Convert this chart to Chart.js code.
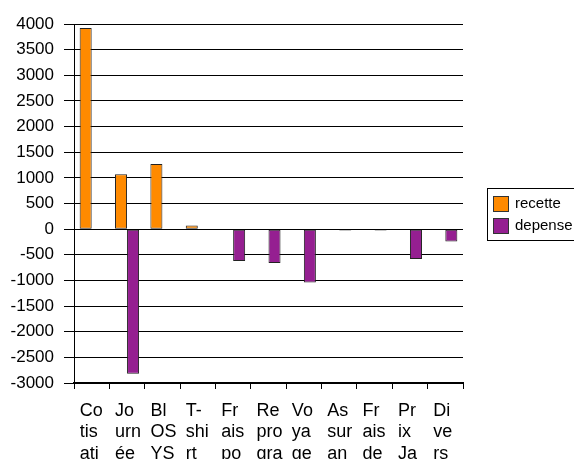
<!DOCTYPE html>
<html>
<head>
<meta charset="utf-8">
<script src="https://cdn.jsdelivr.net/npm/chart.js@4"></script>
<style>
  html, body { margin: 0; padding: 0; background: #fff; overflow: hidden; }
  #wrap { width: 574px; height: 459px; overflow: hidden; }
</style>
</head>
<body>
<div id="wrap"><canvas id="myChart" width="574" height="480"></canvas></div>
<script>
// data
const categories = [
  ["Co", "tis", "ati"],
  ["Jo", "urn", "ée"],
  ["Bl", "OS", "YS"],
  ["T-", "shi", "rt"],
  ["Fr", "ais", "po"],
  ["Re", "pro", "gra"],
  ["Vo", "ya", "ge"],
  ["As", "sur", "an"],
  ["Fr", "ais", "de"],
  ["Pr", "ix", "Ja"],
  ["Di", "ve", "rs"],
];
const recette = [3920, 1070, 1270, 70, null, null, null, null, null, null, null];
const depense = [null, -2820, null, null, -620, -660, -1040, -25, -25, -580, -240];
const seriesNames = ["recette", "depense"];

const FONT = "'Liberation Sans', Arial, sans-serif";
const ORANGE = "#ff8a00";
const PURPLE = "#951f91";

// legend with a frame, like the original
const boxLegend = {
  id: "boxLegend",
  afterDraw(chart) {
    const ctx = chart.ctx;
    ctx.save();
    ctx.strokeStyle = "#000";
    ctx.lineWidth = 1;
    ctx.strokeRect(487.5, 188.5, 92, 52);
    const ys = [196, 218];
    chart.data.datasets.forEach((ds, i) => {
      ctx.fillStyle = ds.backgroundColor;
      ctx.fillRect(493, ys[i], 16, 16);
      ctx.strokeStyle = "#333";
      ctx.strokeRect(493.5, ys[i] + 0.5, 15, 15);
      ctx.fillStyle = "#000";
      ctx.font = "15px " + FONT;
      ctx.textBaseline = "middle";
      ctx.fillText(ds.label, 515, ys[i] + 8);
    });
    ctx.restore();
  },
};

new Chart(document.getElementById("myChart"), {
  type: "bar",
  data: {
    labels: categories,
    datasets: [
      {
        label: seriesNames[0],
        data: recette,
        backgroundColor: ORANGE,
        borderColor: "#222",
        borderWidth: 1,
        borderSkipped: false,
      },
      {
        label: seriesNames[1],
        data: depense,
        backgroundColor: PURPLE,
        borderColor: "#222",
        borderWidth: 1,
        borderSkipped: false,
      },
    ],
  },
  options: {
    responsive: false,
    devicePixelRatio: 1,
    animation: false,
    categoryPercentage: 0.68,
    barPercentage: 1,
    layout: { padding: { top: 24, right: 111, left: 0, bottom: 0 } },
    plugins: {
      legend: { display: false },
      tooltip: { enabled: false },
    },
    scales: {
      x: {
        grid: {
          drawOnChartArea: false,
          tickLength: 6,
          color: "#000",
        },
        border: { color: "#000", width: 2 },
        ticks: {
          color: "#000",
          font: { family: FONT, size: 18, lineHeight: 1.2 },
          padding: 11,
          maxRotation: 0,
          autoSkip: false,
          align: "start",
          labelOffset: -12,
        },
        afterFit(scale) {
          scale.height = 480 - 383;
        },
      },
      y: {
        min: -3000,
        max: 4000,
        grid: {
          color: "#000",
          tickLength: 10,
        },
        border: { color: "#000", width: 1 },
        ticks: {
          stepSize: 500,
          color: "#000",
          font: { family: FONT, size: 17 },
          padding: 10,
          callback: (v) => String(v),
        },
        afterFit(scale) {
          scale.width = 74;
        },
      },
    },
  },
  plugins: [boxLegend],
});
</script>
</body>
</html>
